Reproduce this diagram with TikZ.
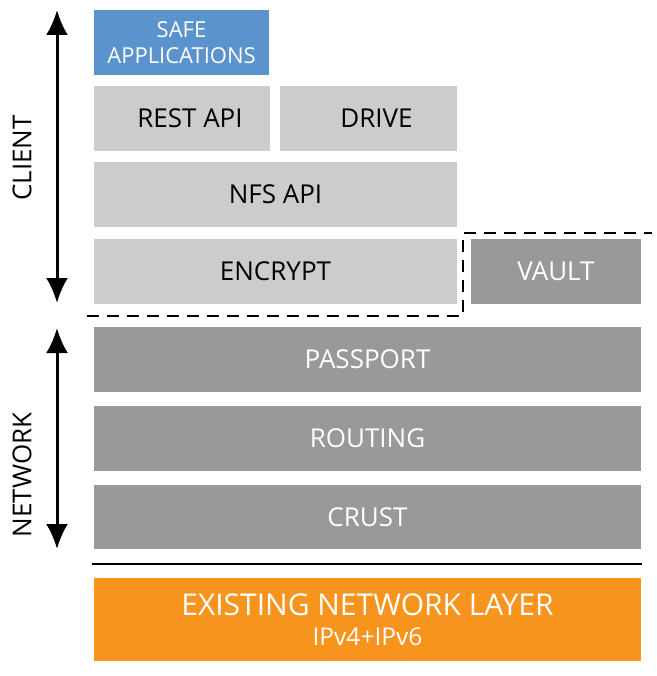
\documentclass[tikz,border=0pt]{standalone}
\usepackage{fontspec}
\setmainfont{Open Sans}
\usetikzlibrary{arrows.meta}
\definecolor{lgray}{HTML}{CCCCCC}
\definecolor{dgray}{HTML}{999999}
\definecolor{sblue}{HTML}{5B93CC}
\definecolor{sorange}{HTML}{F7941E}
\begin{document}
\begin{tikzpicture}[x=1pt,y=-1pt,
  layer/.style={anchor=north west,inner sep=0pt,outer sep=0pt,font=\fontsize{26}{29}\selectfont},
  light/.style={layer,fill=lgray,text=black},
  dark/.style={layer,fill=dgray,text=white},
  sideaxis/.style={line width=3pt,{Latex[length=25pt,width=22pt]}-{Latex[length=25pt,width=22pt]}},
  sidelabel/.style={rotate=90,font=\fontsize{26}{29}\selectfont,text=black}]
\useasboundingbox (0,0) rectangle (656,676);
\node[layer,fill=sblue,text=white,minimum width=175pt,minimum height=65pt,align=center,font=\fontsize{22}{26}\selectfont] (safe) at (94,10) {SAFE\\APPLICATIONS};
\node[light,minimum width=176pt,minimum height=65pt] (rest) at (94,86) {\hspace*{16pt}\raisebox{-2pt}{REST API}};
\node[light,minimum width=177pt,minimum height=65pt] (drive) at (280,86) {\hspace*{16pt}\raisebox{-2pt}{DRIVE}};
\node[light,minimum width=363pt,minimum height=65pt] (nfs) at (94,162) {\raisebox{-2pt}{NFS API}};
\node[light,minimum width=363pt,minimum height=65pt] (encrypt) at (94,239) {\raisebox{-2pt}{ENCRYPT}};
\node[dark,minimum width=170pt,minimum height=65pt] (vault) at (471,239) {\raisebox{-2pt}{VAULT}};
\node[dark,minimum width=547pt,minimum height=65pt] (passport) at (94,327) {\raisebox{-2pt}{PASSPORT}};
\node[dark,minimum width=547pt,minimum height=65pt] (routing) at (94,406) {\raisebox{-2pt}{ROUTING}};
\node[dark,minimum width=547pt,minimum height=64pt] (crust) at (94,485) {\raisebox{-2pt}{CRUST}};
\node[layer,fill=sorange,text=white,minimum width=547pt,minimum height=83pt,align=center] (existing) at (94,578)
  {{\fontsize{30}{33}\selectfont EXISTING NETWORK LAYER}\\[1pt]{\fontsize{24.5}{26}\selectfont IPv4+IPv6}};
\coordinate (sepL) at (92,564);
\coordinate (sepR) at (642,564);
\draw[line width=2.2pt] (sepL) -- (sepR);
\coordinate (d1) at (87,316);
\coordinate (d2) at (463,316);
\coordinate (d3) at (463,233);
\coordinate (d4) at (652,233);
\draw[line width=2pt,dash pattern=on 12pt off 8pt] (d1) -- (d2) -- (d3) -- (d4);
\coordinate (ct) at (57,10);
\coordinate (cb) at (57,303);
\coordinate (nt) at (57,328);
\coordinate (nb) at (57,549);
\draw[sideaxis] (cb) -- (ct);
\draw[sideaxis] (nb) -- (nt);
\node[sidelabel] (client) at (22,158) {CLIENT};
\node[sidelabel] (network) at (22,475) {NETWORK};
\end{tikzpicture}
\end{document}
